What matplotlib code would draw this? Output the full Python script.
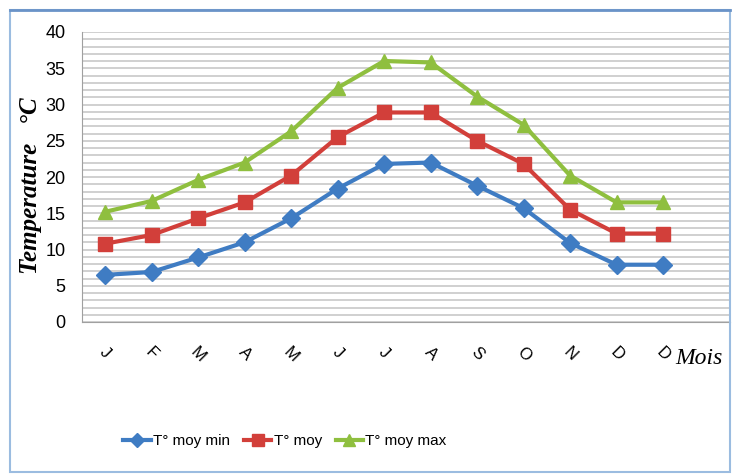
import numpy as np
import matplotlib.pyplot as plt
from matplotlib.patches import Rectangle
from matplotlib.lines import Line2D

months = ['J', 'F', 'M', 'A', 'M', 'J', 'J', 'A', 'S', 'O', 'N', 'D', 'D']
t_min = [6.5, 6.9, 8.9, 11.0, 14.3, 18.4, 21.8, 22.0, 18.8, 15.7, 10.9, 7.9, 7.9]
t_moy = [10.8, 12.0, 14.3, 16.5, 20.2, 25.5, 28.9, 28.9, 25.0, 21.8, 15.5, 12.2, 12.2]
t_max = [15.2, 16.7, 19.6, 22.0, 26.3, 32.3, 36.0, 35.8, 31.1, 27.2, 20.2, 16.5, 16.5]
labels = ['T° moy min', 'T° moy', 'T° moy max']

plt.rcParams['font.family'] = ['Liberation Sans', 'DejaVu Sans']

fig = plt.figure(figsize=(7.35, 4.75), dpi=100)
ax = fig.add_axes([82 / 735, 1 - 322 / 475, 648 / 735, 290 / 475])

# cadre extérieur
fig.patches.append(Rectangle((10 / 735, 3 / 475), 720 / 735, 462 / 475,
                             transform=fig.transFigure, fill=False,
                             edgecolor='#9bbce0', linewidth=1.5))
fig.add_artist(Line2D([10 / 735, 730 / 735], [465 / 475, 465 / 475],
                      transform=fig.transFigure, color='#6a93c8', linewidth=2))

x = np.arange(len(months))
series = [
    (t_min, '#3f7cc3', 'D', 9),
    (t_moy, '#d23f3a', 's', 10),
    (t_max, '#8fbf3f', '^', 10),
]
handles = []
for vals, col, mk, ms in series:
    h, = ax.plot(x, vals, color=col, linewidth=3, marker=mk, markersize=ms,
                 markeredgecolor=col)
    handles.append(h)

ax.set_xlim(-0.5, 13.44)
ax.set_ylim(0, 40)
ax.set_yticks(range(0, 41, 5))
ax.set_yticks(range(0, 41, 1), minor=True)
ax.grid(True, which='both', axis='y', color='#c8c8c8', linewidth=1.2)
ax.set_axisbelow(True)
ax.tick_params(axis='y', which='both', length=0, pad=12, labelsize=13)
ax.set_xticks(x)
ax.set_xticklabels(months, rotation=-45, fontsize=12, ha='center')
ax.tick_params(axis='x', length=0, pad=16)

for s in ['top', 'right']:
    ax.spines[s].set_visible(False)
for s in ['left', 'bottom']:
    ax.spines[s].set_color('#a0a0a0')

ax.set_ylabel('Temperature   °C', family=['Liberation Serif', 'DejaVu Serif'],
              fontsize=18, fontweight='bold', fontstyle='italic')
ax.yaxis.set_label_coords(-0.062, 0.47)

fig.text(675 / 735, 1 - 358 / 475, 'Mois', family=['Liberation Serif', 'DejaVu Serif'],
         fontsize=17, fontstyle='italic', va='center', ha='left')

fig.legend(handles, labels, loc='center', bbox_to_anchor=(285 / 735, 1 - 441 / 475),
           ncol=3, frameon=False, fontsize=11, handlelength=1.8,
           columnspacing=0.9, handletextpad=0.15, markerscale=0.8)

fig.savefig('out.png', dpi=100)
